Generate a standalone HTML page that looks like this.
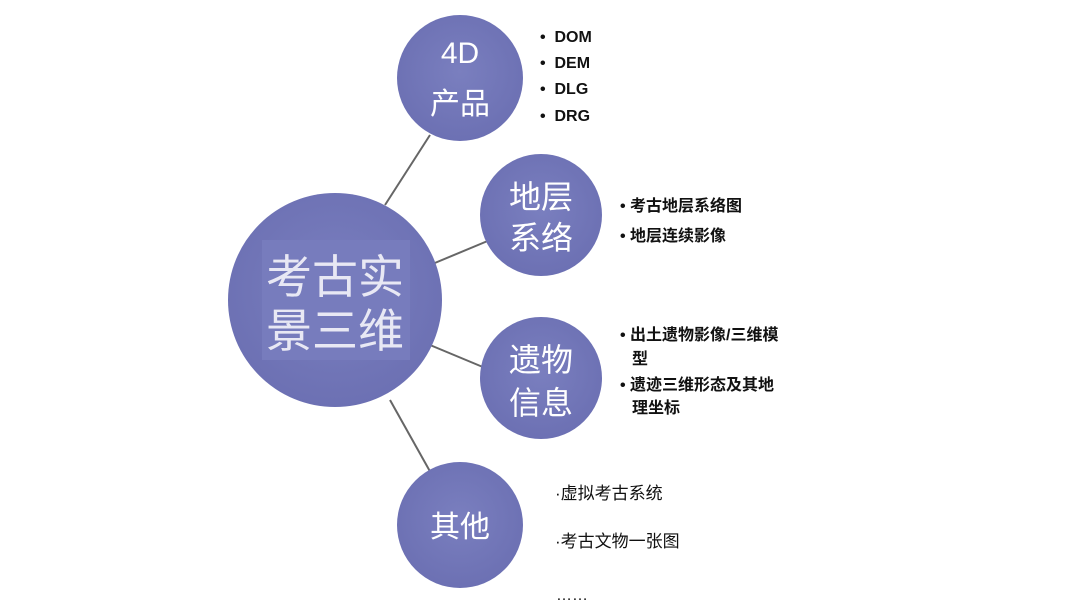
<!DOCTYPE html>
<html><head><meta charset="utf-8"><style>
body{margin:0;width:1080px;height:608px;background:#fff;overflow:hidden;position:relative;font-family:"Liberation Sans","Noto Sans CJK SC",sans-serif}
.t{position:absolute;font-size:16px;color:#111;white-space:nowrap;line-height:1;font-weight:bold}
</style></head><body>
<svg width="1080" height="608" style="position:absolute;left:0;top:0">
<defs><radialGradient id="g" cx="50%" cy="45%" r="60%"><stop offset="0" stop-color="#7a7fbf"/><stop offset="1" stop-color="#6b6fb2"/></radialGradient></defs>
<g stroke="#666" stroke-width="2">
<line x1="430" y1="135" x2="385" y2="205"/>
<line x1="430" y1="265" x2="490" y2="240"/>
<line x1="430" y1="345" x2="490" y2="370"/>
<line x1="390" y1="400" x2="432" y2="475"/>
</g>
<circle cx="335" cy="300" r="107" fill="url(#g)"/>
<rect x="262" y="240" width="148" height="120" fill="#777cbd"/>
<circle cx="460" cy="78" r="63" fill="url(#g)"/>
<circle cx="541" cy="215" r="61" fill="url(#g)"/>
<circle cx="541" cy="378" r="61" fill="url(#g)"/>
<circle cx="460" cy="525" r="63" fill="url(#g)"/>
<g fill="#fff" text-anchor="middle" font-family="Liberation Sans,Noto Sans CJK SC,sans-serif">
<text x="335" y="293" font-size="46" fill="#e8e8f4">考古实</text>
<text x="335" y="347" font-size="46" fill="#e8e8f4">景三维</text>
<text x="460" y="63" font-size="30">4D</text>
<text x="460" y="114" font-size="30">产品</text>
<text x="541" y="208" font-size="32">地层</text>
<text x="541" y="249" font-size="32">系络</text>
<text x="541" y="371" font-size="32">遗物</text>
<text x="541" y="414" font-size="32">信息</text>
<text x="460" y="537" font-size="30">其他</text>
</g>
</svg>
<div class="t" style="left:540px;top:30px">•&nbsp; DOM</div>
<div class="t" style="left:540px;top:56px">•&nbsp; DEM</div>
<div class="t" style="left:540px;top:82px">•&nbsp; DLG</div>
<div class="t" style="left:540px;top:109px">•&nbsp; DRG</div>
<div class="t" style="left:620px;top:199px">• 考古地层系络图</div>
<div class="t" style="left:620px;top:229px">• 地层连续影像</div>
<div class="t" style="left:620px;top:328px">• 出土遗物影像/三维模</div>
<div class="t" style="left:632px;top:352px">型</div>
<div class="t" style="left:620px;top:378px">• 遗迹三维形态及其地</div>
<div class="t" style="left:632px;top:401px">理坐标</div>
<div class="t" style="left:555px;top:485px;font-size:17px;font-weight:normal">·虚拟考古系统</div>
<div class="t" style="left:555px;top:533px;font-size:17px;font-weight:normal">·考古文物一张图</div>
<div class="t" style="left:556px;top:588px;font-weight:normal">……</div>
</body></html>
